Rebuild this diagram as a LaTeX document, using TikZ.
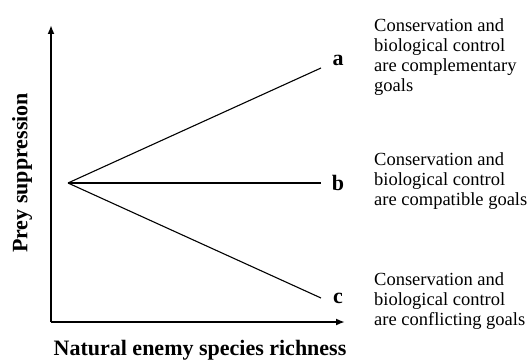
\documentclass[tikz,border=0pt]{standalone}
\usepackage{fontspec}
\setmainfont{Liberation Serif}
\usetikzlibrary{arrows.meta}
\begin{document}
\begin{tikzpicture}[x=1pt,y=1pt]
		\tikzset{axis/.style = {line width=2pt, -{Latex[length=9pt,width=7pt]}},
			trend/.style = {line width=1.1pt},
			letter/.style = {font=\fontsize{22}{22}\selectfont\bfseries, inner sep=0pt},
			title/.style = {font=\fontsize{22}{22}\selectfont\bfseries, inner sep=0pt},
			note/.style = {font=\fontsize{18.5}{20}\selectfont, align=left, anchor=west, inner sep=0pt}}
		\useasboundingbox (0,0) rectangle (532,359);

		\coordinate (O) at (51,37);
		\coordinate (Y) at (51,334);
		\coordinate (X) at (345,37);
		\coordinate (S) at (68,176);

		\coordinate (A) at (321,291);
		\coordinate (B) at (321,176);
		\coordinate (C) at (321,61);

		\node[letter] (a) at (338,299) {a};
		\node[letter] (b) at (338,176) {b};
		\node[letter] (c) at (338,61) {c};

		\node[note] (n_a) at (374,302) {Conservation and\\biological control\\are complementary\\goals};
		\node[note] (n_b) at (374,178) {Conservation and\\biological control\\are compatible goals};
		\node[note] (n_c) at (374,58) {Conservation and\\biological control\\are conflicting goals};

		\node[title] (x) at (200,9) {Natural enemy species richness};
		\node[title, rotate=90] (y) at (22,186) {Prey suppression};


		\draw[axis] (O)--(Y);
		\draw[axis] (O)--(X);

		\draw[trend] (S)--(A);
		\draw[trend] (S)--(B);
		\draw[trend] (S)--(C);

	\end{tikzpicture}
\end{document}
